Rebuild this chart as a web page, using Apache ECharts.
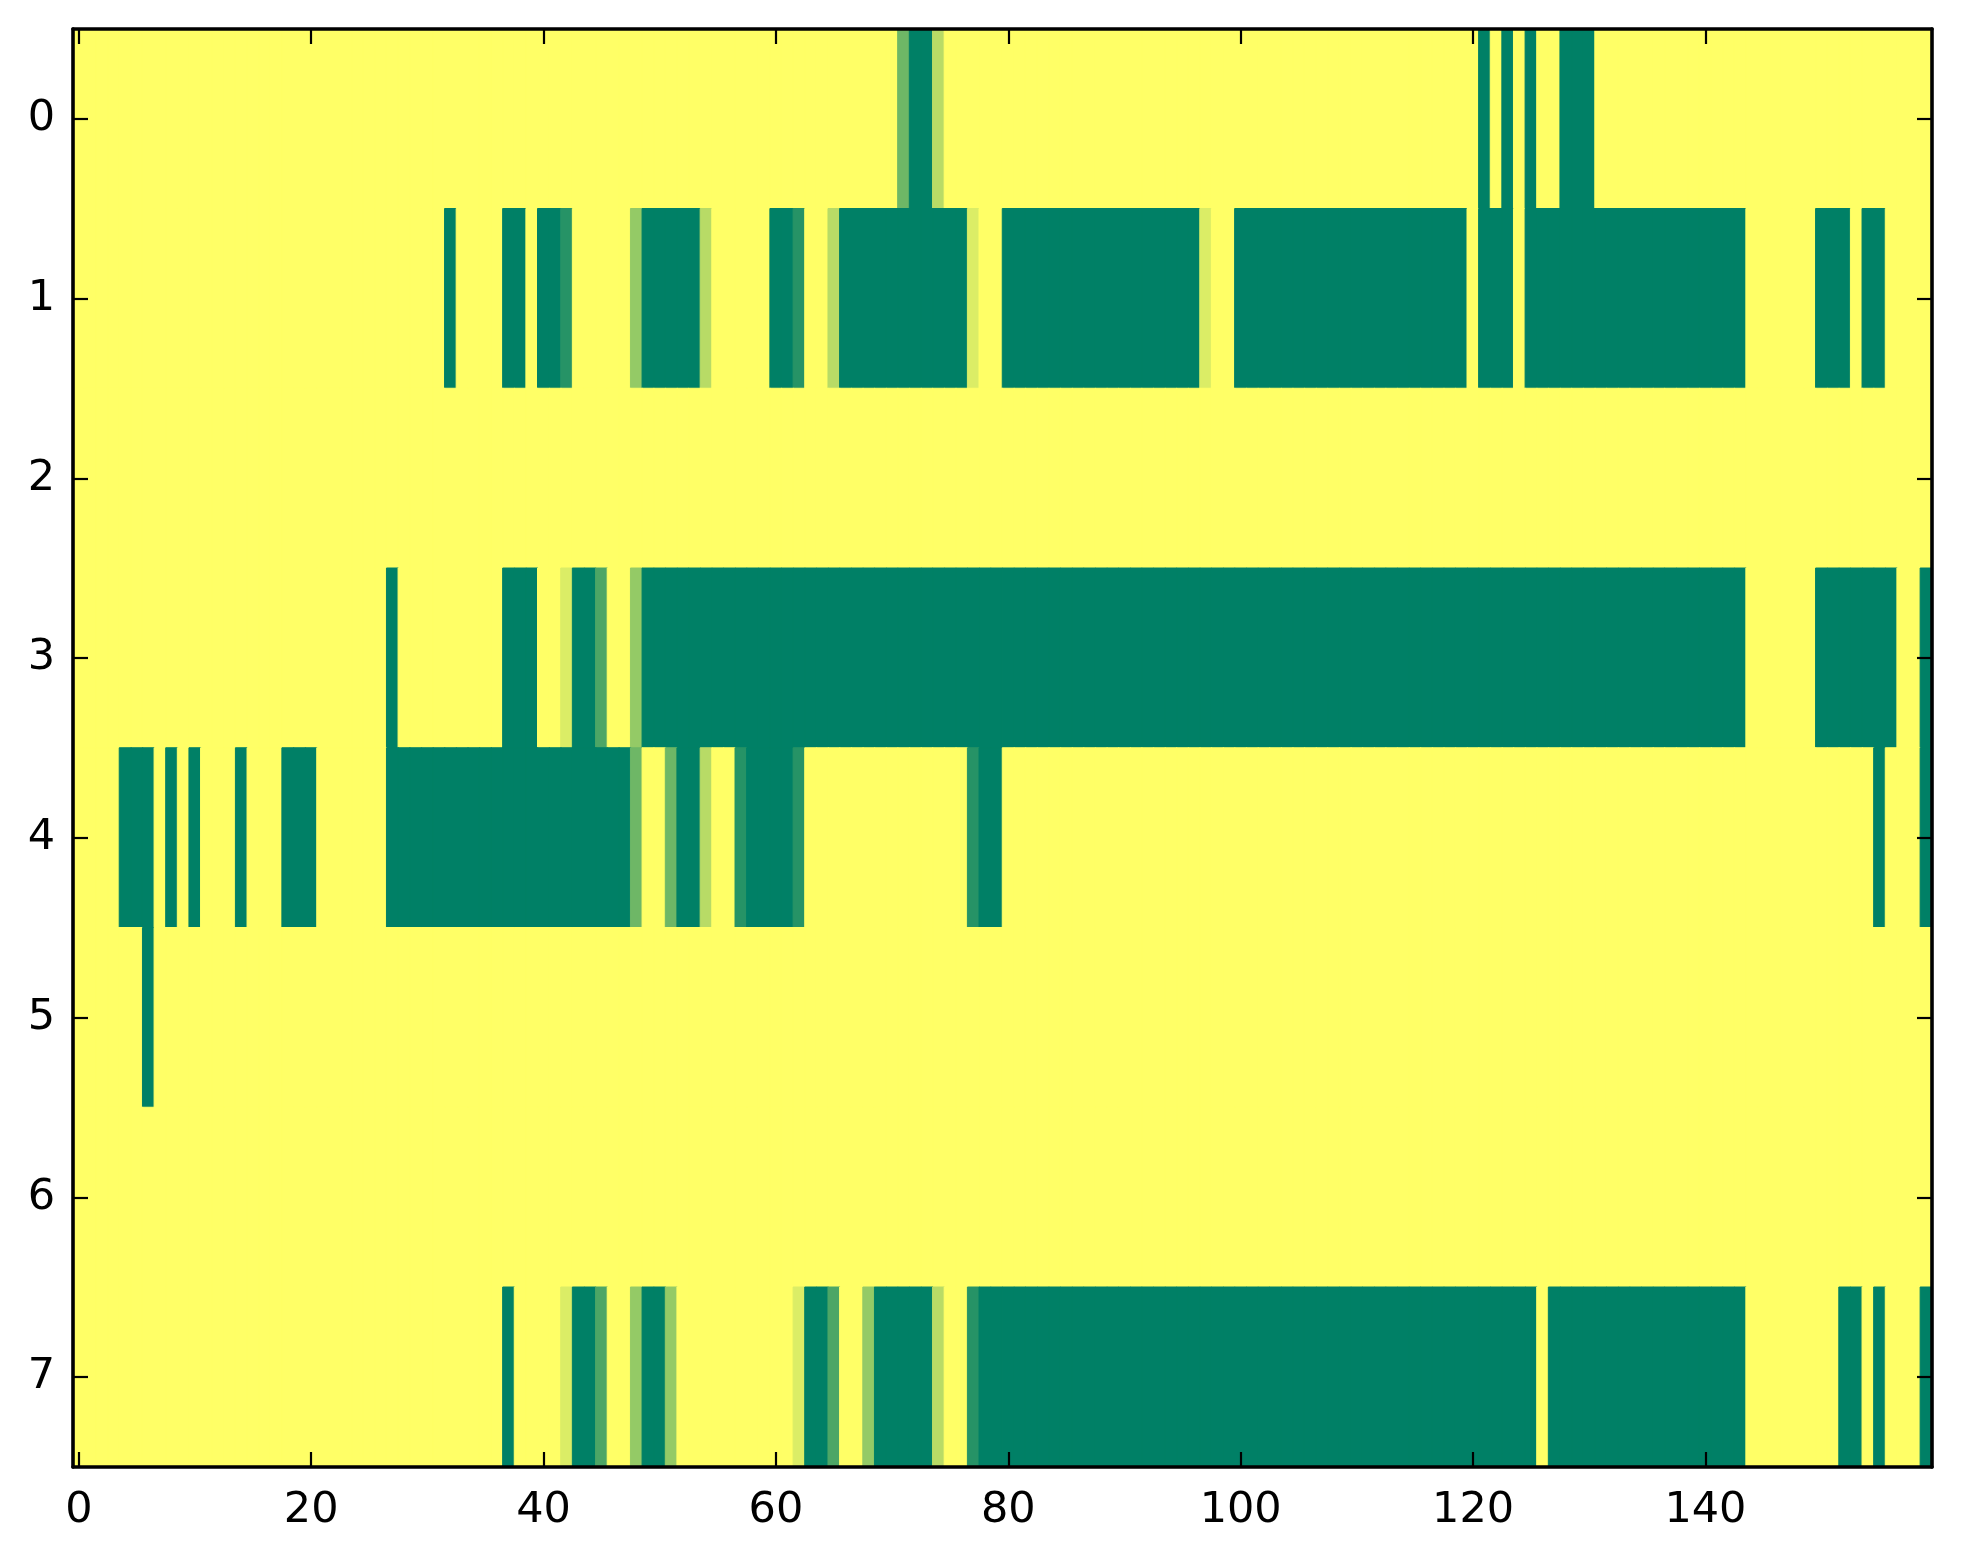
<!DOCTYPE html>
<html>
<head>
<meta charset="utf-8">
<script src="https://cdn.jsdelivr.net/npm/echarts@6/dist/echarts.min.js"></script>
<style>
html,body{margin:0;padding:0;background:#fff;}
#chart{width:1963px;height:1564px;}
</style>
</head>
<body>
<div id="chart"></div>
<script>
// column categories 0..159 and row categories 0..7
var columns = [];
for (var c = 0; c < 160; c++) columns.push(String(c));
var rowLabels = ['0','1','2','3','4','5','6','7'];

var row0 = [
0,0,0,0,0,0,0,0,0,0, 0,0,0,0,0,0,0,0,0,0, 0,0,0,0,0,0,0,0,0,0, 0,0,0,0,0,0,0,0,0,0,
0,0,0,0,0,0,0,0,0,0, 0,0,0,0,0,0,0,0,0,0, 0,0,0,0,0,0,0,0,0,0, 0,0.57,1,1,0.28,0,0,0,0,0,
0,0,0,0,0,0,0,0,0,0, 0,0,0,0,0,0,0,0,0,0, 0,0,0,0,0,0,0,0,0,0, 0,0,0,0,0,0,0,0,0,0,
0,1,0,1,0,1,0,0,1,1, 1,0,0,0,0,0,0,0,0,0, 0,0,0,0,0,0,0,0,0,0, 0,0,0,0,0,0,0,0,0,0
];
var row1 = [
0,0,0,0,0,0,0,0,0,0, 0,0,0,0,0,0,0,0,0,0, 0,0,0,0,0,0,0,0,0,0, 0,0,1,0,0,0,0,1,1,0,
1,1,0.85,0,0,0,0,0,0.42,1, 1,1,1,1,0.28,0,0,0,0,0, 1,1,0.85,0,0,0.28,1,1,1,1, 1,1,1,1,1,1,1,0.14,0,0,
1,1,1,1,1,1,1,1,1,1, 1,1,1,1,1,1,1,0.14,0,0, 1,1,1,1,1,1,1,1,1,1, 1,1,1,1,1,1,1,1,1,1,
0,1,1,1,0,1,1,1,1,1, 1,1,1,1,1,1,1,1,1,1, 1,1,1,1,0,0,0,0,0,0, 1,1,1,0,1,1,0,0,0,0
];
var row2 = [
0,0,0,0,0,0,0,0,0,0, 0,0,0,0,0,0,0,0,0,0, 0,0,0,0,0,0,0,0,0,0, 0,0,0,0,0,0,0,0,0,0,
0,0,0,0,0,0,0,0,0,0, 0,0,0,0,0,0,0,0,0,0, 0,0,0,0,0,0,0,0,0,0, 0,0,0,0,0,0,0,0,0,0,
0,0,0,0,0,0,0,0,0,0, 0,0,0,0,0,0,0,0,0,0, 0,0,0,0,0,0,0,0,0,0, 0,0,0,0,0,0,0,0,0,0,
0,0,0,0,0,0,0,0,0,0, 0,0,0,0,0,0,0,0,0,0, 0,0,0,0,0,0,0,0,0,0, 0,0,0,0,0,0,0,0,0,0
];
var row3 = [
0,0,0,0,0,0,0,0,0,0, 0,0,0,0,0,0,0,0,0,0, 0,0,0,0,0,0,0,1,0,0, 0,0,0,0,0,0,0,1,1,1,
0,0,0.14,1,1,0.7,0,0,0.42,1, 1,1,1,1,1,1,1,1,1,1, 1,1,1,1,1,1,1,1,1,1, 1,1,1,1,1,1,1,1,1,1,
1,1,1,1,1,1,1,1,1,1, 1,1,1,1,1,1,1,1,1,1, 1,1,1,1,1,1,1,1,1,1, 1,1,1,1,1,1,1,1,1,1,
1,1,1,1,1,1,1,1,1,1, 1,1,1,1,1,1,1,1,1,1, 1,1,1,1,0,0,0,0,0,0, 1,1,1,1,1,1,1,0,0,1
];
var row4 = [
0,0,0,0,1,1,1,0,1,0, 1,0,0,0,1,0,0,0,1,1, 1,0,0,0,0,0,0,1,1,1, 1,1,1,1,1,1,1,1,1,1,
1,1,1,1,1,1,1,1,0.57,0, 0,0.57,1,1,0.28,0,0,0.85,1,1, 1,1,0.85,0,0,0,0,0,0,0, 0,0,0,0,0,0,0,0.85,1,1,
0,0,0,0,0,0,0,0,0,0, 0,0,0,0,0,0,0,0,0,0, 0,0,0,0,0,0,0,0,0,0, 0,0,0,0,0,0,0,0,0,0,
0,0,0,0,0,0,0,0,0,0, 0,0,0,0,0,0,0,0,0,0, 0,0,0,0,0,0,0,0,0,0, 0,0,0,0,0,1,0,0,0,1
];
var row5 = [
0,0,0,0,0,0,1,0,0,0, 0,0,0,0,0,0,0,0,0,0, 0,0,0,0,0,0,0,0,0,0, 0,0,0,0,0,0,0,0,0,0,
0,0,0,0,0,0,0,0,0,0, 0,0,0,0,0,0,0,0,0,0, 0,0,0,0,0,0,0,0,0,0, 0,0,0,0,0,0,0,0,0,0,
0,0,0,0,0,0,0,0,0,0, 0,0,0,0,0,0,0,0,0,0, 0,0,0,0,0,0,0,0,0,0, 0,0,0,0,0,0,0,0,0,0,
0,0,0,0,0,0,0,0,0,0, 0,0,0,0,0,0,0,0,0,0, 0,0,0,0,0,0,0,0,0,0, 0,0,0,0,0,0,0,0,0,0
];
var row6 = [
0,0,0,0,0,0,0,0,0,0, 0,0,0,0,0,0,0,0,0,0, 0,0,0,0,0,0,0,0,0,0, 0,0,0,0,0,0,0,0,0,0,
0,0,0,0,0,0,0,0,0,0, 0,0,0,0,0,0,0,0,0,0, 0,0,0,0,0,0,0,0,0,0, 0,0,0,0,0,0,0,0,0,0,
0,0,0,0,0,0,0,0,0,0, 0,0,0,0,0,0,0,0,0,0, 0,0,0,0,0,0,0,0,0,0, 0,0,0,0,0,0,0,0,0,0,
0,0,0,0,0,0,0,0,0,0, 0,0,0,0,0,0,0,0,0,0, 0,0,0,0,0,0,0,0,0,0, 0,0,0,0,0,0,0,0,0,0
];
var row7 = [
0,0,0,0,0,0,0,0,0,0, 0,0,0,0,0,0,0,0,0,0, 0,0,0,0,0,0,0,0,0,0, 0,0,0,0,0,0,0,1,0,0,
0,0,0.14,1,1,0.7,0,0,0.42,1, 1,0.42,0,0,0,0,0,0,0,0, 0,0,0.14,1,1,0.7,0,0,0.42,1, 1,1,1,1,0.28,0,0,0.85,1,1,
1,1,1,1,1,1,1,1,1,1, 1,1,1,1,1,1,1,1,1,1, 1,1,1,1,1,1,1,1,1,1, 1,1,1,1,1,1,1,1,1,1,
1,1,1,1,1,1,0,1,1,1, 1,1,1,1,1,1,1,1,1,1, 1,1,1,1,0,0,0,0,0,0, 0,0,1,1,0,1,0,0,0,1
];
var rows = [row0,row1,row2,row3,row4,row5,row6,row7];

// summer_r colour ends (value 0 -> yellow, value 1 -> green)
var lowColor = [255, 255, 102];
var highColor = [0, 128, 102];
function edgeColor(v) {
  var c = lowColor.map(function (lo, i) { return Math.round(lo + (highColor[i] - lo) * v); });
  return 'rgb(' + c.join(',') + ')';
}

var cells = [];
rows.forEach(function (r, yi) {
  r.forEach(function (v, xi) {
    // border in the cell's own colour hides anti-aliasing seams between cells
    cells.push({value: [xi, yi, v], itemStyle: {borderColor: edgeColor(v), borderWidth: 1}});
  });
});

var font = 'DejaVu Sans';
var lblSize = 43;
var lineW = 3.6;
var tickLen = 15;

function axisCommon(extra) {
  var base = {
    axisLine: {show: true, onZero: false, lineStyle: {color: '#000', width: lineW}},
    splitLine: {show: false},
    z: 10
  };
  for (var k in extra) base[k] = extra[k];
  return base;
}

var chart = echarts.init(document.getElementById('chart'), null, {renderer: 'canvas'});
chart.setOption({
  animation: false,
  backgroundColor: '#ffffff',
  grid: {left: 73, top: 29, right: 31, bottom: 97, containLabel: false},
  xAxis: [
    axisCommon({type: 'category', data: columns, position: 'bottom',
      axisTick: {show: true, inside: true, interval: 19, alignWithLabel: true, length: tickLen, lineStyle: {color: '#000', width: 2.2}},
      axisLabel: {show: true, interval: 19, margin: 22, color: '#000', fontFamily: font, fontSize: lblSize}}),
    axisCommon({type: 'category', data: columns, position: 'top',
      axisTick: {show: true, inside: true, interval: 19, alignWithLabel: true, length: tickLen, lineStyle: {color: '#000', width: 2.2}},
      axisLabel: {show: false}})
  ],
  yAxis: [
    axisCommon({type: 'category', data: rowLabels, inverse: true, position: 'left',
      axisTick: {show: true, inside: true, alignWithLabel: true, length: tickLen, lineStyle: {color: '#000', width: 2.2}},
      axisLabel: {show: true, margin: 18, color: '#000', fontFamily: font, fontSize: lblSize}}),
    axisCommon({type: 'category', data: rowLabels, inverse: true, position: 'right',
      axisTick: {show: true, inside: true, alignWithLabel: true, length: tickLen, lineStyle: {color: '#000', width: 2.2}},
      axisLabel: {show: false}})
  ],
  visualMap: {
    type: 'continuous', show: false, min: 0, max: 1, seriesIndex: 0,
    inRange: {color: ['#ffff66', '#008066']}
  },
  series: [{
    type: 'heatmap',
    xAxisIndex: 0, yAxisIndex: 0,
    data: cells,
    emphasis: {disabled: true},
    silent: true,
    z: 1
  }]
});
</script>
</body>
</html>
